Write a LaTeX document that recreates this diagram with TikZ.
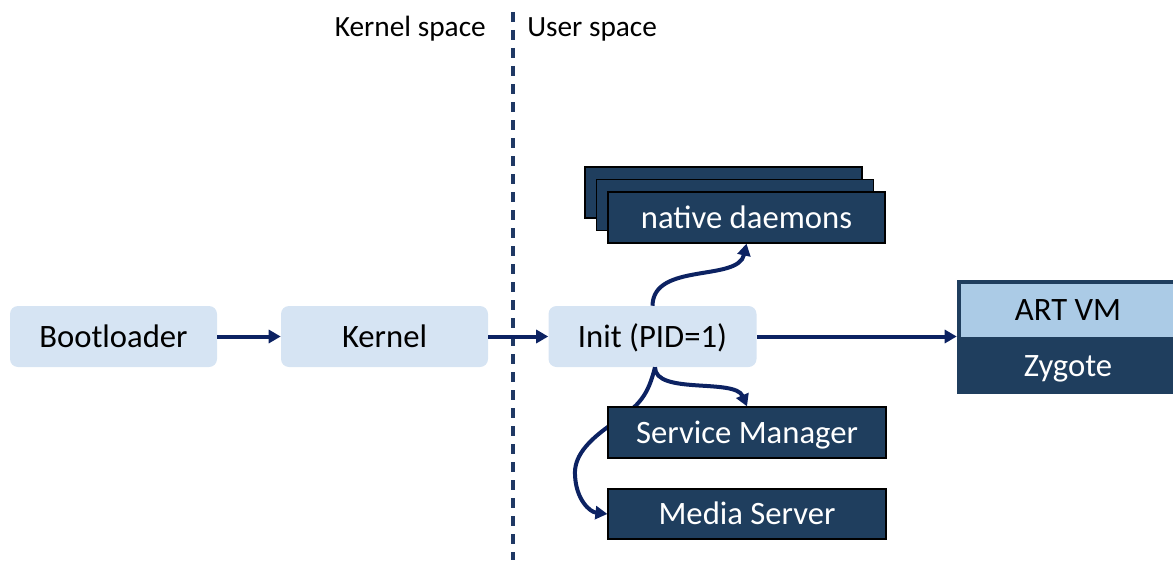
\documentclass[tikz,border=0pt]{standalone}
\usepackage{fontspec}
\setmainfont{Carlito}
\usetikzlibrary{arrows.meta}
\definecolor{lightbox}{HTML}{D6E4F3}
\definecolor{artblue}{HTML}{ABCBE6}
\definecolor{darkbox}{HTML}{1F3E5E}
\definecolor{arrowc}{HTML}{0C2262}
\definecolor{dashc}{HTML}{1F3864}
\tikzset{
  boxtext/.style={font=\fontsize{24.5}{28}\selectfont, text height=16pt, text depth=0pt},
  lbox/.style={rectangle, rounded corners=6pt, fill=lightbox, text=black,
    minimum width={207*0.75pt}, minimum height={61*0.75pt}, inner sep=0pt, boxtext},
  dbox/.style={rectangle, fill=darkbox, draw=black, line width=0.9pt, text=white,
    minimum width={277*0.75pt}, minimum height={51*0.75pt}, inner sep=0pt, boxtext},
  arr/.style={draw=arrowc, line width=3pt, -{Triangle[length=9pt,width=9.75pt]}},
  lbl/.style={font=\fontsize{22}{26}\selectfont, text=black, inner sep=0pt},
}
\begin{document}
\begin{tikzpicture}[x=0.75pt,y=-0.75pt]
\useasboundingbox (0,0) rectangle (1173,560);
% labels and divider
\node[lbl, anchor=base east] (ks) at (486,37) {Kernel space};
\node[lbl, anchor=base west] (us) at (527,37) {User space};
\coordinate (dtop) at (513,12);
\coordinate (dbot) at (513,560);
\draw[dashc, line width=2.4pt, dash pattern=on 7.5pt off 6pt] (dtop) -- (dbot);
% main chain
\node[lbox] (boot) at (113.5,336.5) {Bootloader};
\node[lbox] (kern) at (384.5,336.5) {Kernel};
\node[lbox, minimum width={208*0.75pt}] (init) at (652.5,336.5) {Init (PID=1)};
% native daemons stack
\node[dbox] (nd3) at (723.5,192.5) {};
\node[dbox] (nd2) at (735,205) {};
\node[dbox] (nd) at (746.5,217.5) {native daemons};
% media server
\node[dbox, minimum width={278*0.75pt}, minimum height={50*0.75pt}] (ms) at (747,514) {Media Server};
% connector Init -> Media Server (passes behind Service Manager)
\draw[arr] (init.south) ++(2.5,0) .. controls (648,395) and (640,405) .. (615,422)
  .. controls (585,442) and (574,458) .. (575,475)
  .. controls (576,500) and (590,512) .. (ms.west);
% service manager
\node[dbox, minimum width={278*0.75pt}] (sm) at (747,432.5) {Service Manager};
% ART VM / Zygote
\node[rectangle, fill=darkbox, inner sep=0pt, minimum width={222*0.75pt}, minimum height={57*0.75pt},
  text=white, boxtext] (zyg) at (1068,365.5) {Zygote};
\node[rectangle, fill=artblue, draw=darkbox, line width=3pt, inner sep=0pt,
  minimum width={218*0.75pt}, minimum height={57*0.75pt},
  text=black, boxtext] (art) at (1068,310) {ART VM};
% connectors
\draw[arr] (boot.east) -- (kern.west);
\draw[arr] (kern.east) -- (init.west);
\draw[arr] (init.east) -- (init.east -| zyg.west);
\draw[arr] (init.north) .. controls (653,262) and (738,282) .. (nd.south);
\draw[arr] (init.south) ++(2.5,0) .. controls (655,395) and (735,378) .. (sm.north);
\end{tikzpicture}
\end{document}
